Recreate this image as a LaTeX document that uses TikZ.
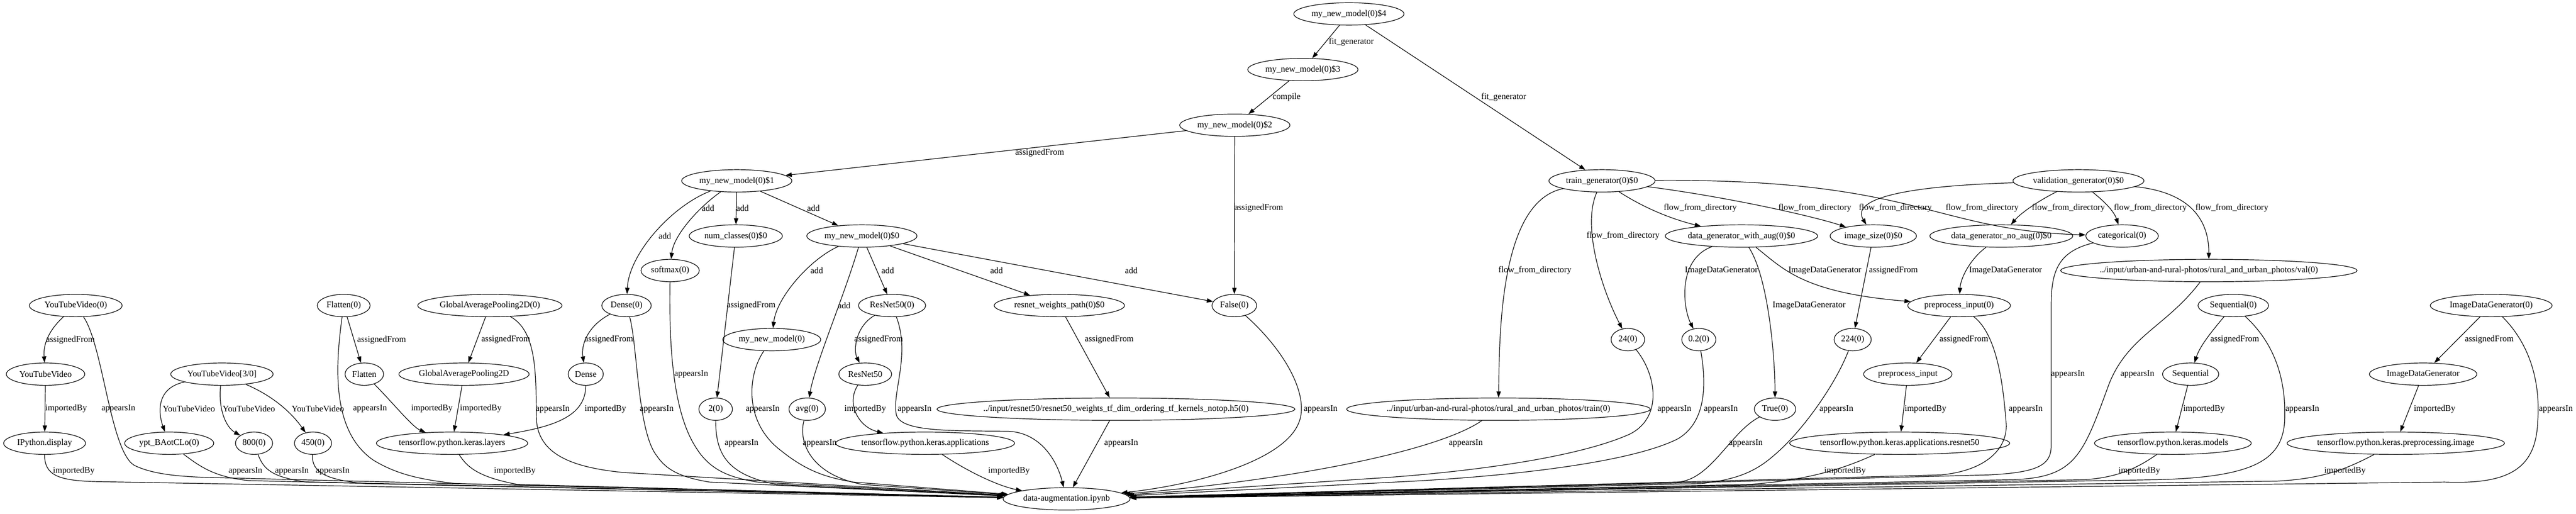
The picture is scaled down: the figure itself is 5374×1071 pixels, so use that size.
\documentclass[tikz,border=0pt]{standalone}
\usepackage{fontspec}
\setmainfont{Liberation Serif}
\usetikzlibrary{arrows.meta,shapes.geometric,calc}
\begin{document}
\begin{tikzpicture}[x=0.772pt,y=-0.772pt,
 gn/.style={draw,ellipse,line width=1pt,minimum width=54pt,minimum height=36pt,inner xsep=2.5pt,inner ysep=3pt,font=\fontsize{14}{16}\selectfont},
 lb/.style={inner sep=0pt,font=\fontsize{14}{16}\selectfont},
 e/.style={draw,line width=1pt,-{Triangle[length=10pt,width=7pt]}}]
\useasboundingbox (0,0) rectangle (5374,1071);
% nodes
\node[gn] (m4) at (2814,29) {my\_new\_model(0)\$4};
\node[gn] (m3) at (2718,145) {my\_new\_model(0)\$3};
\node[gn] (m2) at (2576,261) {my\_new\_model(0)\$2};
\node[gn] (m1) at (1537,377) {my\_new\_model(0)\$1};
\node[gn] (tg) at (3342,377) {train\_generator(0)\$0};
\node[gn,inner xsep=1.5pt] (vg) at (4336,377) {validation\_generator(0)\$0};
\node[gn] (nc) at (1535,492) {num\_classes(0)\$0};
\node[gn] (m0) at (1798,492) {my\_new\_model(0)\$0};
\node[gn,inner xsep=0.5pt] (dgwa) at (3633,492) {data\_generator\_with\_aug(0)\$0};
\node[gn] (isz) at (3908,492) {image\_size(0)\$0};
\node[gn,inner xsep=0.5pt] (dgna) at (4175,492) {data\_generator\_no\_aug(0)\$0};
\node[gn] (cat) at (4427,492) {categorical(0)};
\node[gn] (sm) at (1398,564) {softmax(0)};
\node[gn,inner xsep=-6.9pt] (val) at (4608,564) {../input/urban-and-rural-photos/rural\_and\_urban\_photos/val(0)};
\node[gn] (yt0) at (158,637) {YouTubeVideo(0)};
\node[gn] (fl0) at (717,637) {Flatten(0)};
\node[gn,inner xsep=1.4pt] (gap0) at (1022,637) {GlobalAveragePooling2D(0)};
\node[gn] (d0) at (1307,637) {Dense(0)};
\node[gn] (r0) at (1861,637) {ResNet50(0)};
\node[gn,inner xsep=1.5pt] (rwp) at (2210,637) {resnet\_weights\_path(0)\$0};
\node[gn] (f0) at (2575,637) {False(0)};
\node[gn] (pi0) at (4087,637) {preprocess\_input(0)};
\node[gn] (seq0) at (4659,637) {Sequential(0)};
\node[gn] (idg0) at (5197,637) {ImageDataGenerator(0)};
\node[gn] (mm) at (1610,708) {my\_new\_model(0)};
\node[gn] (n24) at (3396,708) {24(0)};
\node[gn] (n02) at (3544,708) {0.2(0)};
\node[gn] (n224) at (3865,708) {224(0)};
\node[gn] (yt) at (95,780) {YouTubeVideo};
\node[gn] (yt3) at (463,780) {YouTubeVideo[3/0]};
\node[gn] (fl) at (760,780) {Flatten};
\node[gn,inner xsep=1.6pt] (gap) at (968,780) {GlobalAveragePooling2D};
\node[gn] (d) at (1222,780) {Dense};
\node[gn] (r) at (1805,780) {ResNet50};
\node[gn] (pi) at (3980,780) {preprocess\_input};
\node[gn] (seq) at (4570,780) {Sequential};
\node[gn] (idg) at (5055,780) {ImageDataGenerator};
\node[gn] (n2) at (1493,853) {2(0)};
\node[gn] (avg) at (1684,853) {avg(0)};
\node[gn,inner xsep=-9.8pt] (h5) at (2328,853) {../input/resnet50/resnet50\_weights\_tf\_dim\_ordering\_tf\_kernels\_notop.h5(0)};
\node[gn,inner xsep=-7.1pt] (trn) at (3126,853) {../input/urban-and-rural-photos/rural\_and\_urban\_photos/train(0)};
\node[gn] (tru) at (3703,853) {True(0)};
\node[gn] (ipy) at (93,924) {IPython.display};
\node[gn] (ypt) at (353,924) {ypt\_BAotCLo(0)};
\node[gn] (n800) at (530,924) {800(0)};
\node[gn] (n450) at (653,924) {450(0)};
\node[gn,inner xsep=0.5pt] (lay) at (943,924) {tensorflow.python.keras.layers};
\node[gn,inner xsep=-0.9pt] (app) at (1930,924) {tensorflow.python.keras.applications};
\node[gn,inner xsep=-2.9pt] (appr) at (3963,924) {tensorflow.python.keras.applications.resnet50};
\node[gn,inner xsep=0.1pt] (mod) at (4533,924) {tensorflow.python.keras.models};
\node[gn,inner xsep=-2.85pt] (ppi) at (4998,924) {tensorflow.python.keras.preprocessing.image};
\node[gn] (da) at (2225,1040) {data-augmentation.ipynb};
% edges (upper)
\draw[e] (m4) -- (m3);
\draw[e] (m4) -- (tg);
\draw[e] (m3) -- (m2);
\draw[e] (m2) -- (m1);
\draw[e] (m2) -- (f0);
\draw[e] (m1) .. controls (1400,430) and (1312,530) .. (d0);
\draw[e] (m1) .. controls (1460,430) and (1405,490) .. (sm);
\draw[e] (m1) -- (nc);
\draw[e] (m1) -- (m0);
\draw[e] (m0) .. controls (1690,540) and (1620,620) .. (mm);
\draw[e] (m0) .. controls (1760,620) and (1700,760) .. (avg);
\draw[e] (m0) -- (r0);
\draw[e] (m0) -- (rwp);
\draw[e] (m0) -- (f0);
\draw[e] (nc) -- (n2);
\draw[e] (rwp) -- (h5);
\draw[e] (d0) .. controls (1225,680) and (1212,720) .. (d);
\draw[e] (d) .. controls (1222,870) and (1150,890) .. (lay);
\draw[e] (gap0) -- (gap);
\draw[e] (gap) -- (lay);
\draw[e] (fl0) -- (fl);
\draw[e] (fl) .. controls (820,840) and (860,890) .. (lay);
\draw[e] (yt0) .. controls (100,690) and (90,720) .. (yt);
\draw[e] (yt) -- (ipy);
\draw[e] (yt3) .. controls (320,810) and (333,870) .. (ypt);
\draw[e] (yt3) .. controls (455,850) and (470,890) .. (n800);
\draw[e] (yt3) .. controls (580,830) and (615,870) .. (n450);
\draw[e] (r0) .. controls (1785,680) and (1780,730) .. (r);
\draw[e] (r) .. controls (1765,840) and (1790,890) .. (app);
\draw[e] (tg) .. controls (3128,420) and (3128,700) .. (trn);
\draw[e] (tg) .. controls (3300,470) and (3340,600) .. (n24);
\draw[e] (tg) .. controls (3440,440) and (3500,460) .. (dgwa);
\draw[e] (tg) .. controls (3600,410) and (3780,450) .. (isz);
\draw[e] (tg) .. controls (4000,372) and (4030,480) .. (cat);
\draw[e] (vg) .. controls (3900,390) and (3870,430) .. (isz);
\draw[e] (vg) .. controls (4250,420) and (4215,445) .. (dgna);
\draw[e] (vg) .. controls (4390,420) and (4410,440) .. (cat);
\draw[e] (vg) .. controls (4560,400) and (4608,450) .. (val);
\draw[e] (dgwa) .. controls (3500,540) and (3510,640) .. (n02);
\draw[e] (dgwa) .. controls (3690,580) and (3703,750) .. (tru);
\draw[e] (dgwa) .. controls (3720,560) and (3760,610) .. (pi0);
\draw[e] (isz) -- (n224);
\draw[e] (dgna) .. controls (4110,540) and (4090,580) .. (pi0);
\draw[e] (pi0) -- (pi);
\draw[e] (pi) -- (appr);
\draw[e] (seq0) .. controls (4615,690) and (4590,720) .. (seq);
\draw[e] (seq) -- (mod);
\draw[e] (idg0) -- (idg);
\draw[e] (idg) -- (ppi);
% edges into data-augmentation (left)
\draw[e] (ipy) .. controls (93,990) and (120,1002) .. (200,1004) -- (da);
\draw[e] (yt0) .. controls (215,720) and (230,940) .. (280,970) .. controls (320,990) and (380,993) .. (421,995) -- (da);
\draw[e] (ypt) .. controls (420,975) and (450,995) .. (520,1002) -- (da);
\draw[e] (n800) .. controls (550,980) and (570,995) .. (640,1005) -- (da);
\draw[e] (n450) .. controls (650,985) and (680,1000) .. (760,1008) -- (da);
\draw[e] (fl0) .. controls (700,760) and (690,900) .. (780,960) .. controls (830,990) and (880,1000) .. (950,1008) -- (da);
\draw[e] (lay) .. controls (975,975) and (1000,995) .. (1080,1010) -- (da);
\draw[e] (gap0) .. controls (1120,690) and (1118,780) .. (1119,870) .. controls (1120,950) and (1200,975) .. (1300,985) -- (da);
\draw[e] (d0) .. controls (1330,720) and (1330,900) .. (1370,950) .. controls (1390,980) and (1420,995) .. (1480,1005) -- (da);
\draw[e] (sm) .. controls (1396,700) and (1400,850) .. (1450,930) .. controls (1480,980) and (1520,995) .. (1580,1005) -- (da);
\draw[e] (n2) .. controls (1493,950) and (1520,990) .. (1620,1010) -- (da);
\draw[e] (mm) .. controls (1560,780) and (1550,880) .. (1630,940) .. controls (1680,980) and (1720,995) .. (1780,1005) -- (da);
\draw[e] (avg) .. controls (1665,920) and (1690,990) .. (1800,1010) -- (da);
\draw[e] (r0) .. controls (1900,740) and (1860,820) .. (1870,865) .. controls (1880,900) and (1980,898) .. (2100,899) .. controls (2170,900) and (2205,960) .. (da);
\draw[e] (app) .. controls (2030,990) and (2090,1015) .. (da);
\draw[e] (h5) -- (da);
\draw[e] (f0) .. controls (2690,740) and (2730,830) .. (2710,880) .. controls (2680,960) and (2500,1010) .. (da);
% edges into data-augmentation (right)
\draw[e] (trn) .. controls (3000,940) and (2700,1000) .. (da);
\draw[e] (n24) .. controls (3455,780) and (3470,870) .. (3400,905) .. controls (3300,950) and (3100,980) .. (2900,995) -- (da);
\draw[e] (n02) .. controls (3560,800) and (3560,880) .. (3500,915) .. controls (3400,965) and (3150,992) .. (2950,1003) -- (da);
\draw[e] (tru) .. controls (3610,900) and (3570,1000) .. (3500,1005) -- (da);
\draw[e] (n224) .. controls (3830,800) and (3760,900) .. (3700,950) .. controls (3660,985) and (3620,1000) .. (3550,1008) -- (da);
\draw[e] (appr) .. controls (3850,975) and (3780,1000) .. (3650,1010) -- (da);
\draw[e] (pi0) .. controls (4170,700) and (4180,820) .. (4185,880) .. controls (4190,930) and (4150,980) .. (4050,990) -- (da);
\draw[e] (cat) .. controls (4290,525) and (4279,570) .. (4279,640) -- (4279,930) .. controls (4279,970) and (4250,985) .. (4150,990) -- (da);
\draw[e] (val) .. controls (4520,680) and (4440,700) .. (4400,800) .. controls (4345,950) and (4330,995) .. (4200,1000) -- (da);
\draw[e] (mod) .. controls (4460,975) and (4420,995) .. (4350,1000) -- (da);
\draw[e] (seq0) .. controls (4750,720) and (4770,800) .. (4766,880) .. controls (4760,960) and (4700,995) .. (4500,1000) -- (da);
\draw[e] (ppi) .. controls (4900,975) and (4850,998) .. (4750,1003) -- (da);
\draw[e] (idg0) .. controls (5280,720) and (5300,800) .. (5294,880) .. controls (5290,980) and (5230,1010) .. (5100,1005) -- (da);
% edge labels
\node[lb] (L1) at (2819,87) {fit\_generator};
\node[lb] (L2) at (3137,203) {fit\_generator};
\node[lb] (L3) at (2684,203) {compile};
\node[lb] (L4) at (2169,319) {assignedFrom};
\node[lb] (L5) at (2626,434) {assignedFrom};
\node[lb] (L6) at (1477,434) {add};
\node[lb] (L7) at (1549,434) {add};
\node[lb] (L8) at (1697,434) {add};
\node[lb] (L9) at (1387,492) {add};
\node[lb] (L10) at (1704,564) {add};
\node[lb] (L11) at (1852,564) {add};
\node[lb] (L12) at (2079,564) {add};
\node[lb] (L13) at (2360,564) {add};
\node[lb] (L14) at (1761,637) {add};
\node[lb] (L15) at (1567,637) {assignedFrom};
\node[lb] (L16) at (2314,708) {assignedFrom};
\node[lb] (L17) at (3202,564) {flow\_from\_directory};
\node[lb] (L18) at (3386,492) {flow\_from\_directory};
\node[lb] (L19) at (3547,434) {flow\_from\_directory};
\node[lb] (L20) at (3786,434) {flow\_from\_directory};
\node[lb] (L21) at (3954,434) {flow\_from\_directory};
\node[lb] (L22) at (4135,434) {flow\_from\_directory};
\node[lb] (L23) at (4315,434) {flow\_from\_directory};
\node[lb] (L24) at (4486,434) {flow\_from\_directory};
\node[lb] (L25) at (4656,434) {flow\_from\_directory};
\node[lb] (L26) at (3591,564) {ImageDataGenerator};
\node[lb] (L27) at (3774,637) {ImageDataGenerator};
\node[lb] (L28) at (3807,564) {ImageDataGenerator};
\node[lb] (L29) at (3950,564) {assignedFrom};
\node[lb] (L30) at (4184,564) {ImageDataGenerator};
\node[lb] (L31) at (4097,708) {assignedFrom};
\node[lb] (L32) at (4017,853) {importedBy};
\node[lb] (L33) at (147,709) {assignedFrom};
\node[lb] (L34) at (796,709) {assignedFrom};
\node[lb] (L35) at (1055,708) {assignedFrom};
\node[lb] (L36) at (1270,708) {assignedFrom};
\node[lb] (L37) at (1833,708) {assignedFrom};
\node[lb] (L38) at (4662,708) {assignedFrom};
\node[lb] (L39) at (5193,708) {assignedFrom};
\node[lb] (L40) at (138,852) {importedBy};
\node[lb] (L41) at (394,852) {YouTubeVideo};
\node[lb] (L42) at (519,852) {YouTubeVideo};
\node[lb] (L43) at (663,852) {YouTubeVideo};
\node[lb] (L44) at (901,852) {importedBy};
\node[lb] (L45) at (1003,852) {importedBy};
\node[lb] (L46) at (1263,853) {importedBy};
\node[lb] (L47) at (1805,853) {importedBy};
\node[lb] (L48) at (4598,853) {importedBy};
\node[lb] (L49) at (5079,853) {importedBy};
\node[lb] (L50) at (247,852) {appearsIn};
\node[lb] (L51) at (772,852) {appearsIn};
\node[lb] (L52) at (1153,853) {appearsIn};
\node[lb] (L53) at (1370,853) {appearsIn};
\node[lb] (L54) at (1442,780) {appearsIn};
\node[lb] (L55) at (1591,853) {appearsIn};
\node[lb] (L56) at (1547,924) {appearsIn};
\node[lb] (L57) at (1710,924) {appearsIn};
\node[lb] (L58) at (1908,853) {appearsIn};
\node[lb] (L59) at (2339,924) {appearsIn};
\node[lb] (L60) at (2755,853) {appearsIn};
\node[lb] (L61) at (3058,924) {appearsIn};
\node[lb] (L62) at (3493,853) {appearsIn};
\node[lb] (L63) at (3590,853) {appearsIn};
\node[lb] (L64) at (3642,924) {appearsIn};
\node[lb] (L65) at (3831,853) {appearsIn};
\node[lb] (L66) at (4226,853) {appearsIn};
\node[lb] (L67) at (4314,780) {appearsIn};
\node[lb] (L68) at (4459,780) {appearsIn};
\node[lb] (L69) at (4803,853) {appearsIn};
\node[lb] (L70) at (5332,853) {appearsIn};
\node[lb] (L71) at (512,982) {appearsIn};
\node[lb] (L72) at (609,982) {appearsIn};
\node[lb] (L73) at (694,982) {appearsIn};
\node[lb] (L74) at (154,982) {importedBy};
\node[lb] (L75) at (1074,982) {importedBy};
\node[lb] (L76) at (2105,982) {importedBy};
\node[lb] (L77) at (3849,982) {importedBy};
\node[lb] (L78) at (4463,982) {importedBy};
\node[lb] (L79) at (4892,982) {importedBy};
\end{tikzpicture}
\end{document}
